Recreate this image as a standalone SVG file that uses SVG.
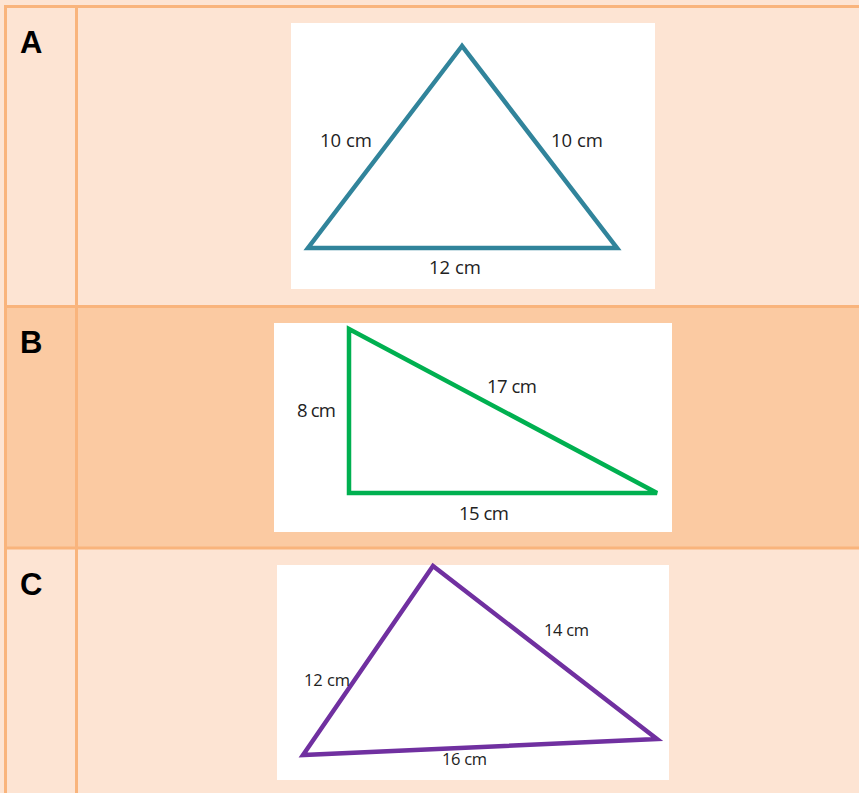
<svg xmlns="http://www.w3.org/2000/svg" width="859" height="793" viewBox="0 0 859 793">
<style>
.light{fill:#FDE4D3}
.dark{fill:#FBCAA2}
.grid{stroke:#F9B47C;stroke-width:3;fill:none}
.letter{font-family:"Liberation Sans",Arial,sans-serif;font-weight:bold;font-size:31px;fill:#000}
.lbl{font-family:"Open Sans","Liberation Sans",sans-serif;font-size:18.5px;fill:#222}
.lbls{font-family:"Open Sans","Liberation Sans",sans-serif;font-size:16.5px;fill:#222}
.card{fill:#fff}
.tri{fill:none;stroke-width:4.5;stroke-linejoin:miter}
</style>
<rect class="light" x="0" y="0" width="859" height="793"/>
<rect class="light" x="5.5" y="6.5" width="853.5" height="300"/>
<rect class="dark" x="5.5" y="306.5" width="853.5" height="241.5"/>
<rect class="light" x="5.5" y="548" width="853.5" height="245"/>
<g id="grid">
<line class="grid" x1="4" y1="6.5" x2="859" y2="6.5"/>
<line class="grid" x1="5.5" y1="5" x2="5.5" y2="793"/>
<line class="grid" x1="76.5" y1="5" x2="76.5" y2="793"/>
<line class="grid" x1="4" y1="306.5" x2="859" y2="306.5"/>
<line class="grid" x1="4" y1="548" x2="859" y2="548"/>
</g>
<g id="rowA">
<text class="letter" x="20" y="53">A</text>
<rect class="card" x="291" y="23" width="364" height="266"/>
<polygon class="tri" stroke="#31849B" points="462,46 308,248 617,248"/>
<text class="lbl" x="320" y="147" textLength="52">10 cm</text>
<text class="lbl" x="551" y="147" textLength="52">10 cm</text>
<text class="lbl" x="429" y="274" textLength="52">12 cm</text>
</g>
<g id="rowB">
<text class="letter" x="20" y="353">B</text>
<rect class="card" x="274" y="323" width="398" height="209"/>
<polygon class="tri" stroke="#00B050" points="349,329 349,493 657,493"/>
<text class="lbl" x="297" y="417" textLength="39">8 cm</text>
<text class="lbl" x="487" y="393" textLength="50">17 cm</text>
<text class="lbl" x="459" y="520" textLength="50">15 cm</text>
</g>
<g id="rowC">
<text class="letter" x="20" y="595">C</text>
<rect class="card" x="277" y="565" width="392" height="215"/>
<polygon class="tri" stroke="#7030A0" points="433,566 303,755 657,739"/>
<text class="lbls" x="544" y="636" textLength="45">14 cm</text>
<text class="lbls" x="304" y="686" textLength="46">12 cm</text>
<text class="lbls" x="442" y="765" textLength="45">16 cm</text>
</g>
</svg>
